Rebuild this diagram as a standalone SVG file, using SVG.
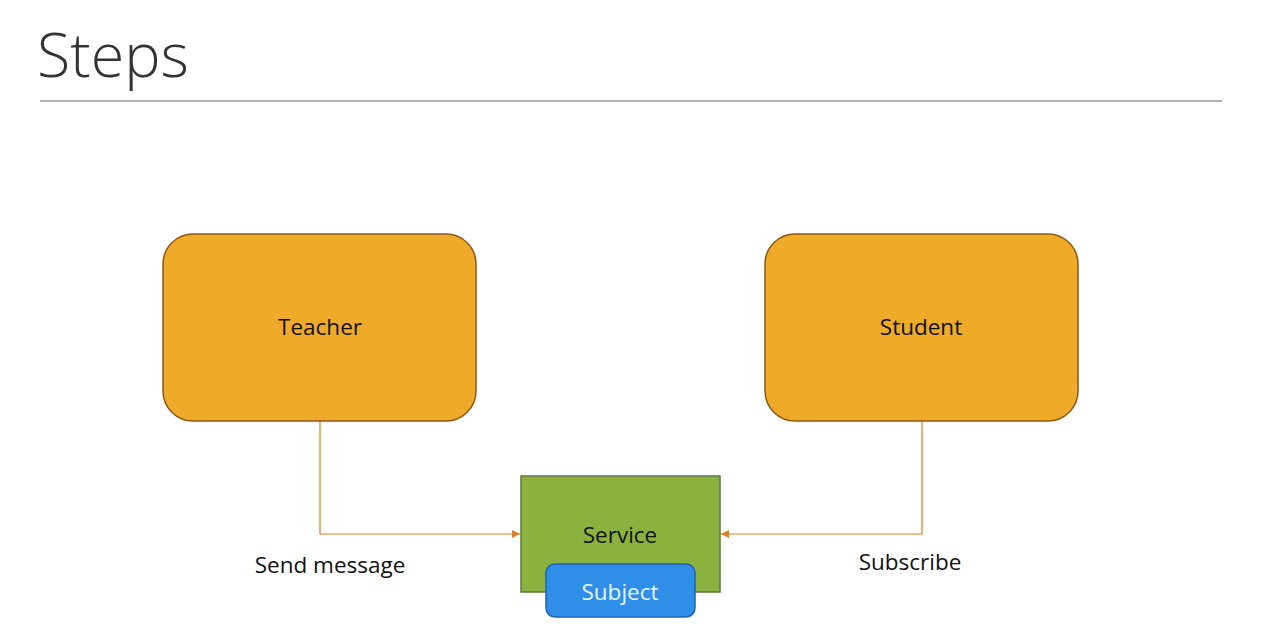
<svg xmlns="http://www.w3.org/2000/svg" width="1280" height="634" viewBox="0 0 1280 634">
<style>
text{font-family:"Open Sans","Noto Sans","Liberation Sans",sans-serif;}
.actor{fill:#F0AA29;stroke:#8C5A14;stroke-width:1.5;}
.lbl{font-size:22.5px;fill:#111;text-anchor:middle;}
.conn{fill:none;stroke:#E07E1E;stroke-width:1.2;}
</style>
<defs>
<marker id="arr" viewBox="0 0 10 10" refX="10" refY="5" markerWidth="8" markerHeight="8" markerUnits="userSpaceOnUse" orient="auto">
<path d="M0,0 L10,5 L0,10 z" fill="#E07E1E"/>
</marker>
</defs>
<rect width="1280" height="634" fill="#fff"/>
<text x="37" y="77" style="font-size:61px;font-weight:300;fill:#333;">Steps</text>
<line x1="40" y1="101" x2="1222" y2="101" stroke="#999" stroke-width="1.3"/>
<g id="connectors">
<path class="conn" d="M320,421 V534 H520" marker-end="url(#arr)"/>
<path class="conn" d="M922,421 V534 H721" marker-end="url(#arr)"/>
</g>
<g id="teacher">
<rect class="actor" x="163" y="234" width="313" height="187" rx="30"/>
<text class="lbl" x="320" y="335">Teacher</text>
</g>
<g id="student">
<rect class="actor" x="765" y="234" width="313" height="187" rx="30"/>
<text class="lbl" x="921" y="335">Student</text>
</g>
<g id="service">
<rect x="521" y="476" width="199" height="116" fill="#8BB13E" stroke="#5E7A3A" stroke-width="1.5"/>
<text class="lbl" x="620" y="543">Service</text>
</g>
<g id="subject">
<rect x="546" y="564" width="149" height="53" rx="9" fill="#2F8EE8" stroke="#1D63B0" stroke-width="1.5"/>
<text x="620" y="600" style="font-size:22.5px;fill:#E8F4FF;text-anchor:middle;">Subject</text>
</g>
<text class="lbl" x="330" y="573">Send message</text>
<text class="lbl" x="910" y="570">Subscribe</text>
</svg>
